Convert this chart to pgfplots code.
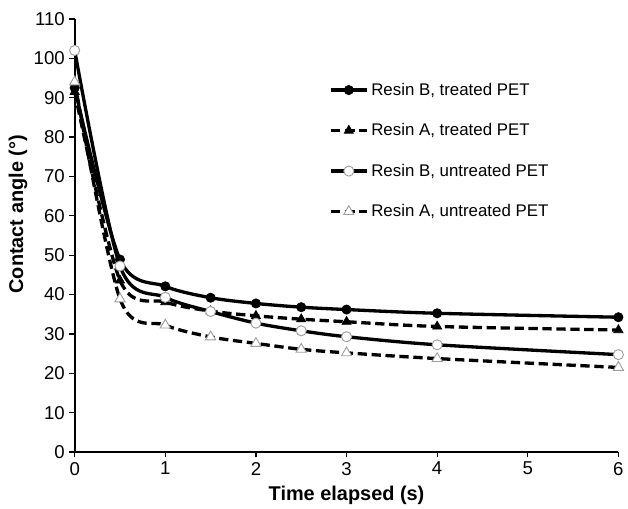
\documentclass[border=0pt]{standalone}
\usepackage{fontspec}
\setmainfont{Liberation Sans}
\usepackage{pgfplots}
\pgfplotsset{compat=1.18}

% x: time elapsed (s); y: contact angle (deg)
\pgfplotstableread{
x    y
0    92.5
0.5  48.9
1    42.1
1.5  39.2
2    37.75
2.5  36.8
3    36.2
4    35.25
6    34.25
}\resinBtreated
\pgfplotstableread{
x    y
0    91.5
0.5  43.6
1    38.1
1.5  35.8
2    34.6
2.5  33.75
3    33.1
4    31.9
6    31.0
}\resinAtreated
\pgfplotstableread{
x    y
0    102
0.5  47.25
1    39.3
1.5  35.7
2    32.75
2.5  30.8
3    29.3
4    27.25
6    24.75
}\resinBuntreated
\pgfplotstableread{
x    y
0    94
0.5  38.9
1    32.25
1.5  29.25
2    27.6
2.5  26.1
3    25.2
4    23.75
6    21.5
}\resinAuntreated

\begin{document}
\begin{tikzpicture}
  \begin{axis}[
      at={(0,0)}, anchor=origin,
      scale only axis,
      width=409.5pt, height=326.25pt,
      xmin=0, xmax=6, ymin=0, ymax=110,
      xtick={0,1,...,6},
      ytick={0,10,...,110},
      axis x line*=bottom,
      axis y line*=left,
      axis line style={line width=1.5pt},
      tick align=outside,
      major tick length=4pt,
      tick style={black, line width=1pt},
      /pgf/number format/assume math mode=true,
      xticklabel style={font=\fontsize{14}{16}\selectfont},
      yticklabel style={font=\fontsize{14}{16}\selectfont},
      xlabel={Time elapsed (s)},
      ylabel={Contact angle (°)},
      every axis x label/.style={at={(axis description cs:0.5,-0.099)}, anchor=center,
        font=\fontsize{15}{17}\selectfont\bfseries},
      every axis y label/.style={at={(axis description cs:-0.104,0.549)}, rotate=90, anchor=center,
        font=\fontsize{15}{17}\selectfont\bfseries},
      clip=false,
      legend style={at={(axis description cs:0.46,0.865)}, anchor=north west,
        draw=none, fill=none, font=\fontsize{12.7}{14}\selectfont,
        row sep=15.8pt, cells={anchor=west}},
      legend image code/.code={%
        \draw[mark repeat=2,mark phase=2] plot coordinates {(0cm,0cm) (0.48cm,0cm) (0.96cm,0cm)};},
    ]
    \addplot[black, line width=2.5pt, smooth, tension=0.5,
      mark=*, mark size=3.5pt, mark options={solid, fill=black, draw=black, line width=0.5pt}]
      table {\resinBtreated};
    \addlegendentry{Resin B, treated PET}
    \addplot[black, line width=2.5pt, dash pattern=on 7pt off 3.5pt, smooth, tension=0.5,
      mark=triangle*, mark size=4pt, mark options={solid, fill=black, draw=black, line width=0.5pt}]
      table {\resinAtreated};
    \addlegendentry{Resin A, treated PET}
    \addplot[black, line width=2.5pt, smooth, tension=0.5,
      mark=*, mark size=3.8pt, mark options={solid, fill=white, draw=gray!75, line width=0.7pt}]
      table {\resinBuntreated};
    \addlegendentry{Resin B, untreated PET}
    \addplot[black, line width=2.5pt, dash pattern=on 7pt off 3.5pt, smooth, tension=0.5,
      mark=triangle*, mark size=4.4pt, mark options={solid, fill=white, draw=gray!75, line width=0.7pt}]
      table {\resinAuntreated};
    \addlegendentry{Resin A, untreated PET}
  \end{axis}
  \useasboundingbox (-56.25pt,-41.25pt) rectangle (414.75pt,340.5pt);
\end{tikzpicture}
\end{document}
